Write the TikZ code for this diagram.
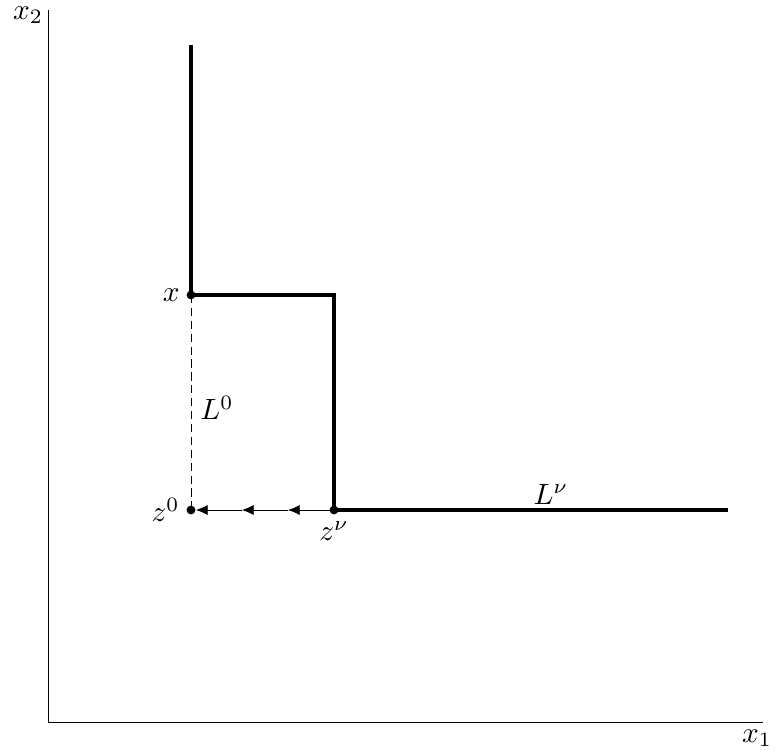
\documentclass[tikz,border=0pt]{standalone}
\usepackage{tikz}
\usetikzlibrary{positioning, calc, arrows.meta}

\begin{document}
\begin{tikzpicture}[
  x=0.012cm, y=-0.012cm,
  axisline/.style={line width=0.3pt},
  pathline/.style={line width=1.4pt},
  steparrow/.style={line width=0.3pt, -{Latex[length=4pt, width=3.5pt]}},
  dotpt/.style={circle, fill, inner sep=0pt, minimum size=3pt},
  ptlab/.style={inner sep=2pt},
]
  \useasboundingbox (0,0) rectangle (776,755);

  % Positions
  \def\xo{48}    % axis origin
  \def\yo{722}
  \def\xa{191}   % x and z^0
  \def\xb{334}   % z^nu
  \def\ya{295}   % level of x
  \def\yb{510}   % level of z^0, z^nu

  % Axes
  \coordinate (O) at (\xo, \yo);
  \coordinate (Xend) at (763, \yo);
  \coordinate (Yend) at (\xo, 10);
  \draw[axisline] (O) -- (Xend);
  \draw[axisline] (O) -- (Yend);
  \node (x1lab) at (757, 738) {$x_1$};
  \node (x2lab) at (28, 15) {$x_2$};

  % Points
  \node[dotpt] (x) at (\xa, \ya) {};
  \node[dotpt] (z0) at (\xa, \yb) {};
  \node[dotpt] (znu) at (\xb, \yb) {};
  \coordinate (top) at (\xa, 45);
  \coordinate (corner) at (\xb, \ya);
  \coordinate (right) at (728, \yb);

  % Thick path
  \draw[pathline] (top) -- (x.center) -- (corner) -- (znu.center) -- (right);

  % Dashed segment L^0
  \draw[line width=0.3pt, dash pattern=on 2.8pt off 1.6pt] (x.center) -- (z0.center);

  % Arrows from z^nu to z^0
  \coordinate (t1) at (288, \yb);
  \coordinate (t2) at (242, \yb);
  \draw[steparrow] (znu.center) -- (t1);
  \draw[steparrow] (t1) -- (t2);
  \draw[steparrow] (t2) -- (z0);

  % Labels
  \node[ptlab, left=0pt of x] (xlab) {$x$};
  \node[ptlab, left=0pt of z0] (z0lab) {$z^0$};
  \node[ptlab, below=0pt of znu] (znulab) {$z^\nu$};
  \node (L0) at (217, 408) {$L^0$};
  \node (Lnu) at (551, 494) {$L^\nu$};
\end{tikzpicture}
\end{document}
